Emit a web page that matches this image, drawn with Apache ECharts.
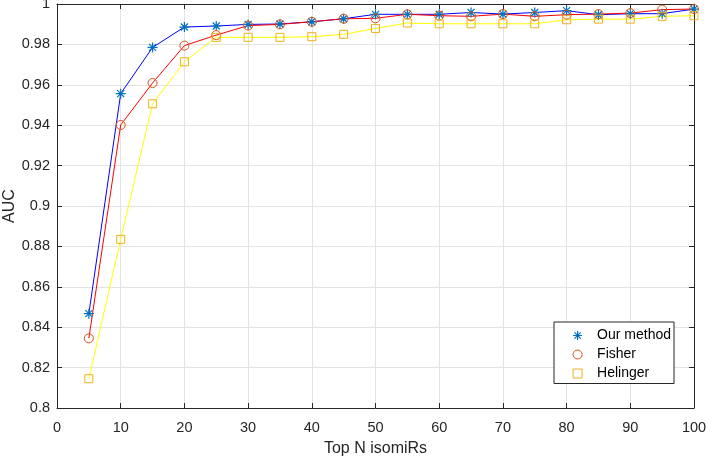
<!DOCTYPE html>
<html>
<head>
<meta charset="utf-8">
<script src="https://cdn.jsdelivr.net/npm/echarts@6/dist/echarts.min.js"></script>
<style>html,body{margin:0;padding:0;background:#fff;}#c{width:706px;height:457px;}</style>
</head>
<body>
<div id="c"></div>
<script>
var topN = [5,10,15,20,25,30,35,40,45,50,55,60,65,70,75,80,85,90,95,100];
var ourMethod = [0.8467,0.9556,0.9785,0.9886,0.9891,0.9899,0.9901,0.9912,0.9927,0.9949,0.9949,0.9949,0.9958,0.9950,0.9958,0.9967,0.9947,0.9952,0.9952,0.9975];
var fisher = [0.8345,0.9401,0.9609,0.9794,0.9846,0.9893,0.9899,0.9912,0.9927,0.9929,0.9949,0.9942,0.9939,0.9950,0.9939,0.9947,0.9950,0.9955,0.9972,0.9975];
var helinger = [0.8145,0.8835,0.9506,0.9714,0.9835,0.9835,0.9835,0.9838,0.9850,0.9879,0.9906,0.9902,0.9902,0.9902,0.9902,0.9922,0.9925,0.9925,0.9939,0.9942];
var seriesNames = ['Our method','Fisher','Helinger'];

function pairs(ys){ return topN.map(function(x,i){ return [x, ys[i]]; }); }

var STAR = 'path://M5,0L5,10M0,5L10,5M1.5,1.5L8.5,8.5M1.5,8.5L8.5,1.5';
var SQUARE = 'path://M0,0L10,0L10,10L0,10Z';
var FONT = 'Liberation Sans';
var AX = '#262626';
var GRID = '#e3e3e3';

var chart = echarts.init(document.getElementById('c'), null, {renderer:'canvas'});
var hollow = function(c, w){ return {color:'rgba(0,0,0,0)', borderColor:c, borderWidth:w||1}; };

chart.setOption({
  animation: false,
  backgroundColor: '#fff',
  textStyle: {fontFamily: FONT},
  grid: {left:57, right:12, top:4, bottom:49, containLabel:false, outerBoundsMode:'none'},
  legend: {
    orient: 'vertical',
    left: 554, top: 322,
    padding: [6.5,3,3,18.5],
    itemGap: 5,
    itemWidth: 29, itemHeight: 9,
    backgroundColor: '#fff',
    borderColor: AX, borderWidth: 1,
    textStyle: {fontFamily: FONT, fontSize: 14, color: '#000'},
    data: [
      {name: seriesNames[0], icon: STAR, itemStyle: hollow('#0072BD',1.2)},
      {name: seriesNames[1], icon: 'circle', itemStyle: hollow('#D95319',1)},
      {name: seriesNames[2], icon: SQUARE, itemStyle: hollow('#EDB120',1)}
    ]
  },
  xAxis: [{
    type: 'value', min: 0, max: 100, interval: 10,
    name: 'Top N isomiRs', nameLocation: 'middle', nameGap: 33, nameMoveOverlap: false,
    nameTextStyle: {fontFamily: FONT, fontSize: 16, color: AX},
    axisLine: {show:true, onZero:false, lineStyle:{color:AX, width:1}},
    axisTick: {show:true, inside:true, length:5, lineStyle:{color:AX}},
    axisLabel: {fontFamily: FONT, fontSize: 14.5, color: AX, margin: 12},
    splitLine: {show:true, lineStyle:{color:GRID, width:1}}
  },{
    type: 'value', min: 0, max: 100, interval: 10, position: 'top',
    axisLine: {show:true, onZero:false, lineStyle:{color:AX, width:1}},
    axisTick: {show:true, inside:true, length:5, lineStyle:{color:AX}},
    axisLabel: {show:false},
    splitLine: {show:false}
  }],
  yAxis: [{
    type: 'value', min: 0.8, max: 1, interval: 0.02,
    name: 'AUC', nameLocation: 'middle', nameGap: 39, nameMoveOverlap: false,
    nameTextStyle: {fontFamily: FONT, fontSize: 16, color: AX},
    axisLine: {show:true, onZero:false, lineStyle:{color:AX, width:1}},
    axisTick: {show:true, inside:true, length:5, lineStyle:{color:AX}},
    axisLabel: {fontFamily: FONT, fontSize: 14.5, color: AX, margin: 7},
    splitLine: {show:true, lineStyle:{color:GRID, width:1}}
  },{
    type: 'value', min: 0.8, max: 1, interval: 0.02, position: 'right',
    axisLine: {show:true, onZero:false, lineStyle:{color:AX, width:1}},
    axisTick: {show:true, inside:true, length:5, lineStyle:{color:AX}},
    axisLabel: {show:false},
    splitLine: {show:false}
  }],
  series: [
    {
      name: seriesNames[0], type: 'line', data: pairs(ourMethod),
      symbol: STAR, symbolSize: 10, symbolKeepAspect: true,
      itemStyle: hollow('#0072BD',1.2),
      lineStyle: {color:'#0000FF', width:1}
    },
    {
      name: seriesNames[1], type: 'line', data: pairs(fisher),
      symbol: 'circle', symbolSize: 9,
      itemStyle: hollow('#D95319',1),
      lineStyle: {color:'#FF0000', width:1}
    },
    {
      name: seriesNames[2], type: 'line', data: pairs(helinger),
      symbol: SQUARE, symbolSize: 8,
      itemStyle: hollow('#EDB120',1),
      lineStyle: {color:'#FFFF00', width:1}
    }
  ]
});
</script>
</body>
</html>
